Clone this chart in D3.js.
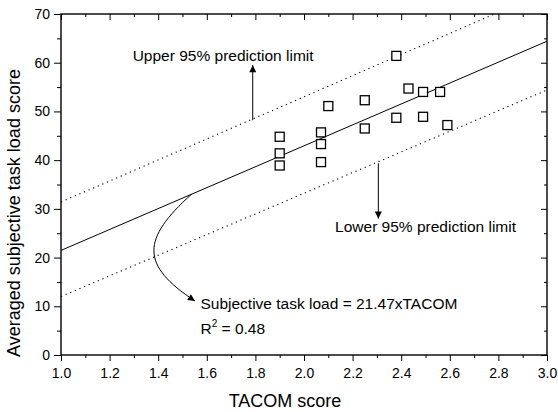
<!DOCTYPE html>
<html>
<head>
<meta charset="utf-8">
<script src="https://cdn.jsdelivr.net/npm/d3@7"></script>
<style>
body { margin: 0; background: #fff; }
text { font-family: Arial, "Liberation Sans", sans-serif; fill: #000; }
</style>
</head>
<body>
<div id="graph"></div>
<script>
// measured points (TACOM score, averaged subjective task load score)
var tacom = [1.90, 1.90, 1.90, 2.07, 2.07, 2.07, 2.10, 2.25, 2.25, 2.38, 2.38, 2.43, 2.49, 2.49, 2.56, 2.59];
var taskLoad = [44.8, 41.4, 38.9, 45.7, 43.3, 39.6, 51.1, 52.3, 46.5, 61.4, 48.7, 54.7, 54.0, 48.9, 54.0, 47.2];

// fit through the origin
var slope = 21.47;
var fitX = [1.0, 3.0];

// 95% prediction limits
var limitX = [1.0, 2.0, 3.0];
var upperLimit = [31.4, 53.0, 74.7];
var lowerLimit = [12.0, 33.2, 54.4];

var xTicks = [1.0, 1.2, 1.4, 1.6, 1.8, 2.0, 2.2, 2.4, 2.6, 2.8, 3.0];
var yTicks = [0, 10, 20, 30, 40, 50, 60, 70];

var W = 558, H = 412;
var margin = {left: 61, right: 11, top: 14, bottom: 57};

var x = d3.scaleLinear().domain([1, 3]).range([margin.left, W - margin.right]);
var y = d3.scaleLinear().domain([0, 70]).range([H - margin.bottom, margin.top]);

var svg = d3.select("#graph").append("svg")
	.attr("width", W).attr("height", H);

var defs = svg.append("defs");
defs.append("clipPath").attr("id", "plotClip").append("rect")
	.attr("x", x(1)).attr("y", y(70))
	.attr("width", x(3) - x(1)).attr("height", y(0) - y(70));
defs.append("marker").attr("id", "head")
	.attr("viewBox", "0 0 10 10").attr("refX", 10).attr("refY", 5)
	.attr("markerWidth", 11).attr("markerHeight", 7)
	.attr("markerUnits", "userSpaceOnUse")
	.attr("orient", "auto")
	.append("path").attr("d", "M0,0L10,5L0,10Z").attr("fill", "#000");

// minor ticks
var xMinor = d3.range(1.1, 3.0, 0.2);
var yMinor = d3.range(5, 70, 10);

function drawAxis(axis, transform) {
	var g = svg.append("g").attr("transform", transform).call(axis);
	g.select(".domain").remove();
	g.selectAll("line").attr("stroke", "#000").attr("stroke-width", 1);
	return g;
}

var bottom = drawAxis(d3.axisBottom(x).tickValues(xTicks).tickSize(6).tickPadding(7)
	.tickFormat(d3.format(".1f")), "translate(0," + y(0) + ")");
bottom.selectAll("text").attr("font-size", 14);
drawAxis(d3.axisBottom(x).tickValues(xMinor).tickSize(3).tickFormat(""), "translate(0," + y(0) + ")");

var left = drawAxis(d3.axisLeft(y).tickValues(yTicks).tickSize(7).tickPadding(4)
	.tickFormat(d3.format("d")), "translate(" + x(1) + ",0)");
left.selectAll("text").attr("font-size", 14);
drawAxis(d3.axisLeft(y).tickValues(yMinor).tickSize(4).tickFormat(""), "translate(" + x(1) + ",0)");

// mirrored ticks on top and right, pointing inward
drawAxis(d3.axisBottom(x).tickValues(xTicks).tickSize(6).tickFormat(""), "translate(0," + y(70) + ")");
drawAxis(d3.axisBottom(x).tickValues(xMinor).tickSize(3).tickFormat(""), "translate(0," + y(70) + ")");
drawAxis(d3.axisLeft(y).tickValues(yTicks).tickSize(6).tickFormat(""), "translate(" + x(3) + ",0)");
drawAxis(d3.axisLeft(y).tickValues(yMinor).tickSize(3).tickFormat(""), "translate(" + x(3) + ",0)");

svg.append("rect")
	.attr("x", x(1)).attr("y", y(70))
	.attr("width", x(3) - x(1)).attr("height", y(0) - y(70))
	.attr("fill", "none").attr("stroke", "#000").attr("stroke-width", 1.4);

var plot = svg.append("g").attr("clip-path", "url(#plotClip)");

var line = d3.line().x(function (d) { return x(d[0]); }).y(function (d) { return y(d[1]); });

plot.append("path")
	.attr("d", line(fitX.map(function (v) { return [v, slope * v]; })))
	.attr("fill", "none").attr("stroke", "#000").attr("stroke-width", 1);

[upperLimit, lowerLimit].forEach(function (lim) {
	plot.append("path")
		.attr("d", line(limitX.map(function (v, i) { return [v, lim[i]]; })))
		.attr("fill", "none").attr("stroke", "#000").attr("stroke-width", 1.1)
		.attr("stroke-dasharray", "1.2,3.8");
});

// squares
var s = 9;
svg.append("g").selectAll("rect").data(tacom).enter().append("rect")
	.attr("x", function (d) { return x(d) - s / 2; })
	.attr("y", function (d, i) { return y(taskLoad[i]) - s / 2; })
	.attr("width", s).attr("height", s)
	.attr("fill", "#fff").attr("stroke", "#000").attr("stroke-width", 1.3);

// annotations
svg.append("line")
	.attr("x1", x(1.789)).attr("y1", y(48.2))
	.attr("x2", x(1.789)).attr("y2", y(59.5))
	.attr("stroke", "#000").attr("stroke-width", 1).attr("marker-end", "url(#head)");
svg.append("text").attr("x", x(1.295)).attr("y", y(60.3))
	.attr("font-size", 15.5).text("Upper 95% prediction limit");

svg.append("line")
	.attr("x1", x(2.306)).attr("y1", y(39.35))
	.attr("x2", x(2.306)).attr("y2", y(28.0))
	.attr("stroke", "#000").attr("stroke-width", 1).attr("marker-end", "url(#head)");
svg.append("text").attr("x", x(2.128)).attr("y", y(25.2))
	.attr("font-size", 15.5).text("Lower 95% prediction limit");

var curve = d3.path();
curve.moveTo(x(1.537), y(slope * 1.537));
curve.bezierCurveTo(x(1.332), y(23.8), x(1.325), y(18.5), x(1.551), y(11.1));
svg.append("path").attr("d", curve.toString())
	.attr("fill", "none").attr("stroke", "#000").attr("stroke-width", 1)
	.attr("marker-end", "url(#head)");

svg.append("text").attr("x", x(1.574)).attr("y", y(9.4))
	.attr("font-size", 15.5).text("Subjective task load = 21.47xTACOM");
var r2 = svg.append("text").attr("x", x(1.574)).attr("y", y(4.3)).attr("font-size", 15.5);
r2.append("tspan").text("R");
r2.append("tspan").attr("font-size", 10).attr("dy", -7).text("2");
r2.append("tspan").attr("dy", 7).text(" = 0.48");

// axis titles
svg.append("text").attr("x", 285).attr("y", 407)
	.attr("text-anchor", "middle").attr("font-size", 18).text("TACOM score");
svg.append("text").attr("transform", "translate(20," + 213 + ") rotate(-90)")
	.attr("text-anchor", "middle").attr("font-size", 18).text("Averaged subjective task load score");
</script>
</body>
</html>
